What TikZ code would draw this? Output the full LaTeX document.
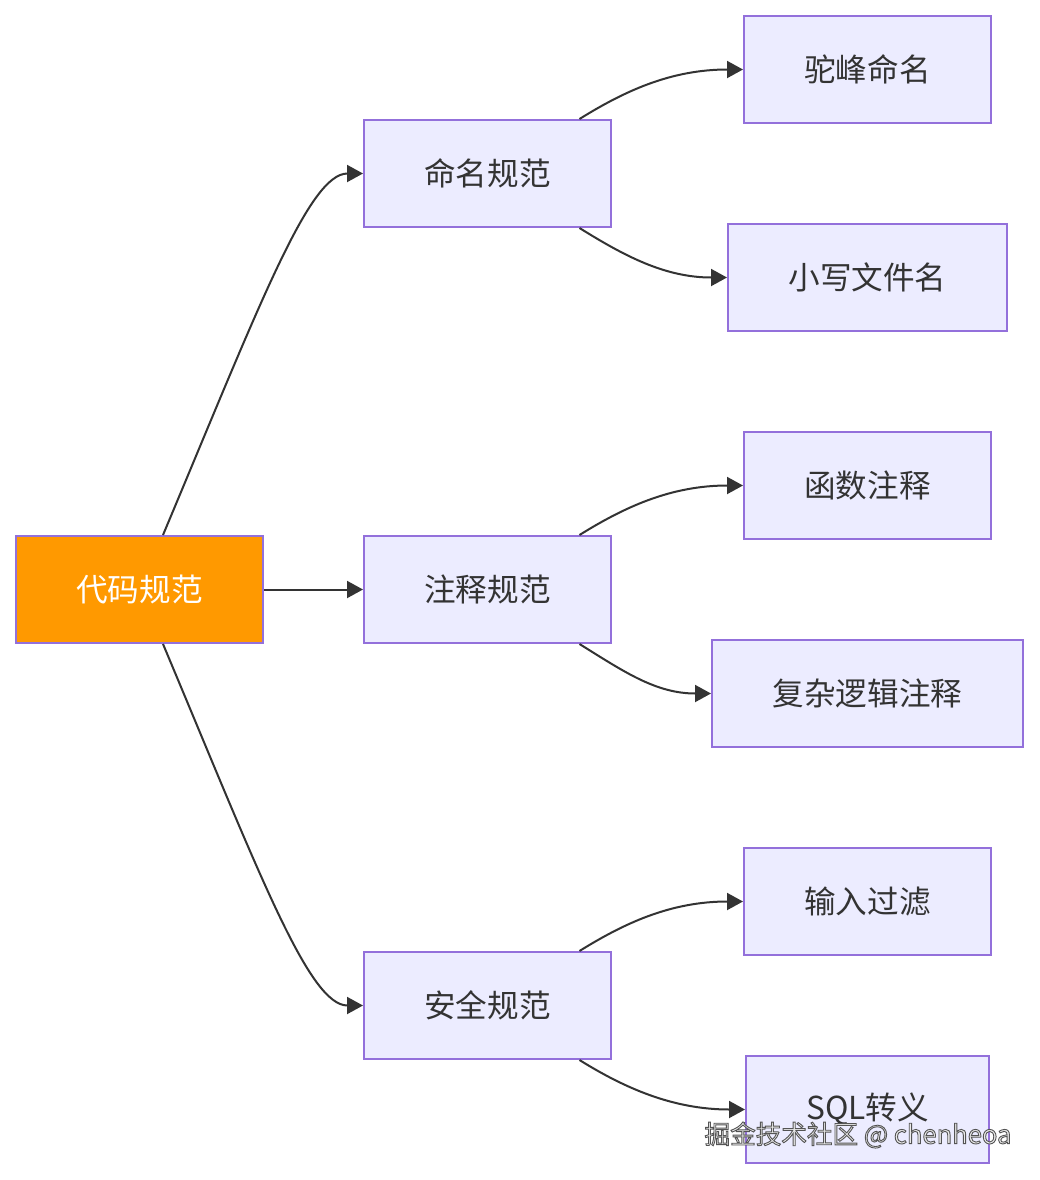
\documentclass[tikz,border=0pt]{standalone}
\usepackage{fontspec}
\setmainfont{Noto Sans CJK SC}
\usetikzlibrary{arrows.meta}
\definecolor{nodefill}{HTML}{ECECFF}
\definecolor{nodeline}{HTML}{9370DB}
\definecolor{rootfill}{HTML}{FF9900}
\definecolor{ink}{HTML}{333333}
\definecolor{wmfill}{HTML}{EBEBEB}
\begin{document}
\begin{tikzpicture}[x=0.5pt,y=-0.5pt,
  box/.style={draw=nodeline, fill=nodefill, line width=1pt, text=ink,
    minimum height=53.5pt, inner sep=0pt, font=\fontsize{15.8pt}{18pt}\selectfont},
  rootbox/.style={box, fill=rootfill, text=white},
  link/.style={draw=ink, line width=1pt, -{Triangle[length=8pt,width=8.5pt]}},
  wm/.style={text=wmfill, font=\fontsize{12.8pt}{15pt}\selectfont, inner sep=0pt}]
\useasboundingbox (0,0) rectangle (1040,1180);
\fill[white] (0,0) rectangle (1040,1180);

\node[rootbox, minimum width=123.5pt] (root) at (139.5,589.5) {\raisebox{-0.8pt}{代码规范}};
\node[box, minimum width=123.5pt] (a) at (487.5,173.5) {\raisebox{-0.8pt}{命名规范}};
\node[box, minimum width=123.5pt] (b) at (487.5,589.5) {\raisebox{-0.8pt}{注释规范}};
\node[box, minimum width=123.5pt] (c) at (487.5,1005.5) {\raisebox{-0.8pt}{安全规范}};
\node[box, minimum width=123.5pt] (a1) at (867.5,69.5) {\raisebox{-0.8pt}{驼峰命名}};
\node[box, minimum width=139.5pt] (a2) at (867.5,277.5) {\raisebox{-0.8pt}{小写文件名}};
\node[box, minimum width=123.5pt] (b1) at (867.5,485.5) {\raisebox{-0.8pt}{函数注释}};
\node[box, minimum width=155.5pt] (b2) at (867.5,693.5) {\raisebox{-0.8pt}{复杂逻辑注释}};
\node[box, minimum width=123.5pt] (c1) at (867.5,901.5) {\raisebox{-0.8pt}{输入过滤}};
\node[box, minimum width=121.5pt] (c2) at (867.5,1109.5) {\raisebox{-0.8pt}{SQL转义}};

\path[link] ([xshift=11.75pt]root.north) .. controls +(97,-231) and +(-54,0) .. (a.west);
\path[link] (root.east) -- (b.west);
\path[link] ([xshift=11.75pt]root.south) .. controls +(97,231) and +(-54,0) .. (c.west);

\path[link] ([xshift=46pt]a.north) .. controls +(45,-28) and +(-72,0) .. (a1.west);
\path[link] ([xshift=46pt]a.south) .. controls +(45,28) and +(-62,0) .. (a2.west);
\path[link] ([xshift=46pt]b.north) .. controls +(45,-28) and +(-72,0) .. (b1.west);
\path[link] ([xshift=46pt]b.south) .. controls +(45,28) and +(-55,0) .. (b2.west);
\path[link] ([xshift=46pt]c.north) .. controls +(45,-28) and +(-72,0) .. (c1.west);
\path[link] ([xshift=46pt]c.south) .. controls +(45,28) and +(-72,0) .. (c2.west);

\node[wm] (wmark) at (858,1135) {\special{pdf:literal direct 2 Tr 0.33 0.33 0.33 RG 0.45 w}掘金技术社区 @ chenheoa\special{pdf:literal direct 0 Tr}};
\end{tikzpicture}
\end{document}
